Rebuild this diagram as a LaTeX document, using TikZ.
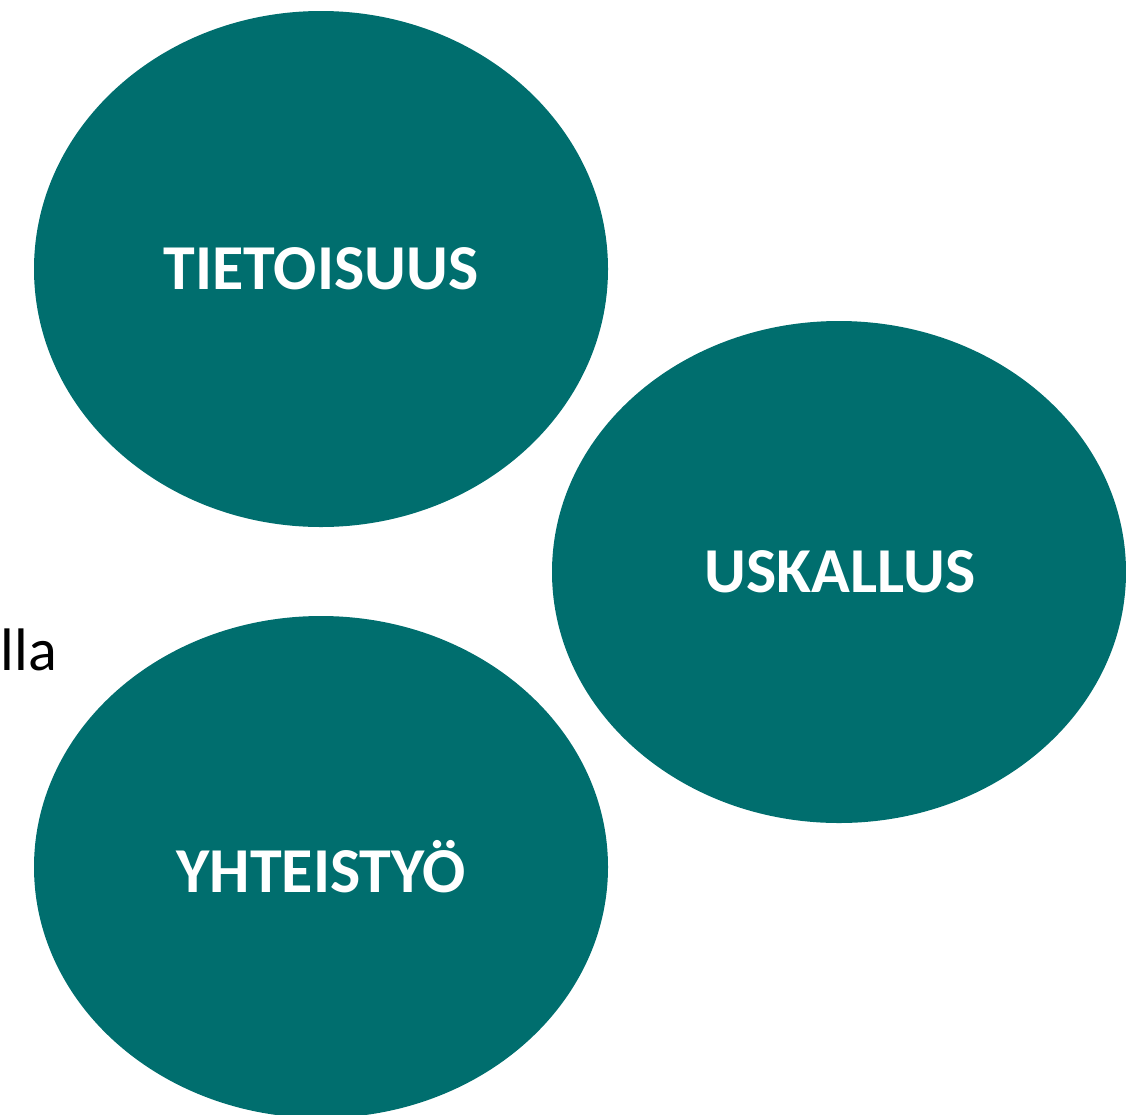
\documentclass[tikz,border=0pt]{standalone}
\usepackage{fontspec}
\setmainfont{Carlito}
\usetikzlibrary{shapes.geometric}
\definecolor{teal}{HTML}{006E6E}
\begin{document}
\begin{tikzpicture}[x=1pt,y=-1pt,
  blob/.style={draw=none,fill=teal},
  blobtext/.style={text=white,font=\fontsize{64}{76}\selectfont\bfseries}]
\useasboundingbox (0,0) rectangle (1126,1114);
\clip (0,0) rectangle (1126,1114);
% three teal ellipses
\fill[blob] (321,269) ellipse[x radius=287, y radius=258];
\fill[blob] (839,572) ellipse[x radius=287, y radius=251];
\fill[blob] (321,867) ellipse[x radius=287, y radius=251];
% labels
\node[blobtext] (tieto) at (321,269) {TIETOISUUS};
\node[blobtext] (uskallus) at (840,572) {USKALLUS};
\node[blobtext] (yhteis) at (321,867) {YHTEISTYÖ};
% word at the left edge
\node[anchor=base west,inner sep=0pt,font=\fontsize{60}{72}\selectfont] (side) at (0.5,670) {lla};
\end{tikzpicture}
\end{document}
